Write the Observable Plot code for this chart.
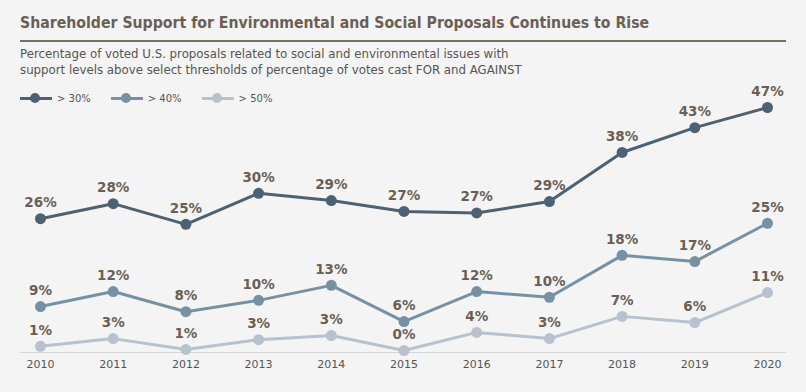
<!DOCTYPE html>
<html><head><meta charset="utf-8">
<script src="https://cdn.jsdelivr.net/npm/d3@7"></script>
<script src="https://cdn.jsdelivr.net/npm/@observablehq/plot@0.6"></script>
<style>
html,body{margin:0;padding:0;background:#f4f4f4;}
#wrap{position:relative;width:806px;height:392px;overflow:hidden;font-family:"DejaVu Sans",Verdana,sans-serif;}
#title{position:absolute;left:20px;top:13px;font-family:"DejaVu Sans Condensed","DejaVu Sans",sans-serif;font-weight:bold;font-size:15.7px;color:#6b5f55;white-space:nowrap;}
#rule{position:absolute;left:20px;top:40px;width:766px;height:2px;background:#7a6d62;}
#sub{position:absolute;left:20px;top:46px;font-family:"DejaVu Sans Condensed","DejaVu Sans",sans-serif;font-size:13.1px;line-height:16px;color:#555;}
#legend{position:absolute;left:20px;top:90px;height:16px;display:flex;align-items:center;font-size:10px;color:#555;}
.li{display:flex;align-items:center;margin-right:20px;}
.sw{position:relative;width:32px;height:3px;margin-right:5px;}
.sw i{position:absolute;left:10px;top:-3.5px;width:10px;height:10px;border-radius:50%;}
#chart{position:absolute;left:0;top:80px;}
</style></head>
<body><div id="wrap">
<div id="title">Shareholder Support for Environmental and Social Proposals Continues to Rise</div>
<div id="rule"></div>
<div id="sub">Percentage of voted U.S. proposals related to social and environmental issues with<br>support levels above select thresholds of percentage of votes cast FOR and AGAINST</div>
<div id="chart"></div>
<div id="legend"></div>
</div>
<script>
const years = [2010,2011,2012,2013,2014,2015,2016,2017,2018,2019,2020];
const seriesNames = ["> 30%", "> 40%", "> 50%"];
const colors = ["#4c6171", "#7592a4", "#b7c2ce"];
const values30 = [25.5,28.4,24.4,30.4,29.0,26.9,26.6,28.8,38.3,43.1,47.0];
const values40 = [8.5,11.4,7.5,9.7,12.6,5.6,11.4,10.3,18.4,17.2,24.6];
const values50 = [0.8,2.3,0.2,2.1,2.9,0.0,3.5,2.3,6.6,5.4,11.2];
const labels30 = ["26%","28%","25%","30%","29%","27%","27%","29%","38%","43%","47%"];
const labels40 = ["9%","12%","8%","10%","13%","6%","12%","10%","18%","17%","25%"];
const labels50 = ["1%","3%","1%","3%","3%","0%","4%","3%","7%","6%","11%"];

const allVals = [values30, values40, values50];
const allLabels = [labels30, labels40, labels50];
const data = [];
seriesNames.forEach((s, i) => {
  years.forEach((y, j) => data.push({series: s, year: y, value: allVals[i][j], label: allLabels[i][j]}));
});

const plot = Plot.plot({
  width: 806, height: 312,
  marginLeft: 40, marginRight: 39, marginTop: 27, marginBottom: 42,
  style: {background: "transparent", fontFamily: "DejaVu Sans, Verdana, sans-serif"},
  x: {domain: [2010, 2020], ticks: years, tickFormat: d => String(d), label: null},
  y: {domain: [0, 47], axis: null},
  color: {domain: seriesNames, range: colors},
  marks: [
    Plot.ruleY([0], {dy: 2, stroke: "#d6d6d6", strokeWidth: 1, insetLeft: -20, insetRight: -19}),
    Plot.axisX({ticks: years, tickSize: 0, tickPadding: 10, fontSize: 11, fill: "#555", label: null, tickFormat: d => String(d)}),
    Plot.line(data, {x: "year", y: "value", z: "series", stroke: "series", strokeWidth: 3}),
    Plot.dot(data, {x: "year", y: "value", fill: "series", r: 5.5}),
    Plot.text(data, {x: "year", y: "value", text: "label", dy: -16, fill: "#6b5f55", fontWeight: "bold", fontSize: 13.5})
  ]
});
document.getElementById("chart").appendChild(plot);

const leg = document.getElementById("legend");
seriesNames.forEach((s, i) => {
  const d = document.createElement("div"); d.className = "li";
  d.innerHTML = `<div class="sw" style="background:${colors[i]}"><i style="background:${colors[i]}"></i></div><span>${s}</span>`;
  leg.appendChild(d);
});
</script>
</body></html>
